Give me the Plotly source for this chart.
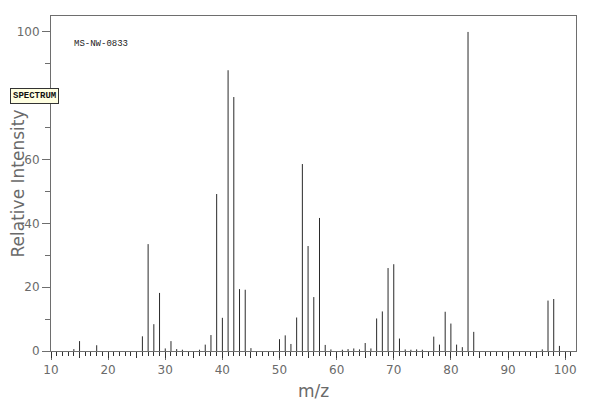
import plotly.graph_objects as go

# mass spectrum peaks (m/z, relative intensity)
mz = [14, 15, 18, 26, 27, 28, 29, 30, 31, 32, 33, 36, 37, 38, 39, 40, 41, 42, 43, 44,
      45, 50, 51, 52, 53, 54, 55, 56, 57, 58, 59, 61, 62, 63, 64, 65, 66, 67, 68, 69,
      70, 71, 72, 73, 74, 75, 77, 78, 79, 80, 81, 82, 83, 84, 96, 97, 98, 99]
intensity = [0.6, 3.1, 1.8, 4.6, 33.5, 8.4, 18.2, 0.8, 3.1, 0.6, 0.4, 0.4, 2.0, 5.0, 49.2, 10.4, 88.0, 79.6, 19.4, 19.2,
             0.9, 3.7, 4.9, 2.2, 10.5, 58.6, 32.9, 16.9, 41.7, 1.9, 0.5, 0.4, 0.6, 0.8, 0.5, 2.5, 0.8, 10.2, 12.4, 26.0,
             27.2, 3.9, 0.5, 0.4, 0.5, 0.4, 4.5, 2.0, 12.3, 8.6, 2.0, 1.2, 100.0, 6.0, 0.5, 15.8, 16.3, 1.6]

x_ticks = [10, 20, 30, 40, 50, 60, 70, 80, 90, 100]
y_ticks = [0, 20, 40, 60, 80, 100]

# stick lines: one segment per peak
xs, ys = [], []
for m, v in zip(mz, intensity):
    xs += [m, m, None]
    ys += [0, v, None]

fig = go.Figure()
fig.add_trace(go.Scatter(
    x=xs, y=ys, mode='lines',
    line=dict(color='#2a2a2a', width=1),
    hoverinfo='skip', showlegend=False
))
# invisible trace to carry the second x axis (5-unit ticks)
fig.add_trace(go.Scatter(x=[10], y=[0], xaxis='x2', mode='markers',
                         marker=dict(opacity=0), hoverinfo='skip', showlegend=False))

axis_grey = '#6e6e6e'
tick_font = dict(family='DejaVu Sans', size=12, color='#6a6a6a')
title_font = dict(family='DejaVu Sans', size=17, color='#6a6a6a')

# page body adds an 8px offset, so margins are set to land the frame where the reference has it
fig.update_layout(
    width=600, height=404,
    margin=dict(l=43, r=32, t=8, b=61),
    plot_bgcolor='white', paper_bgcolor='white',
    xaxis=dict(
        range=[10, 101.9], tickvals=x_ticks, ticks='outside', ticklen=8,
        tickcolor=axis_grey, tickwidth=1, automargin=False,
        minor=dict(dtick=1, tick0=10, ticks='outside', ticklen=4, tickcolor='#333'),
        showline=True, linecolor=axis_grey, linewidth=1, mirror=True,
        showgrid=False, zeroline=False, tickfont=tick_font,
        title=dict(text='m/z', font=title_font, standoff=8),
    ),
    xaxis2=dict(
        overlaying='x', side='bottom', range=[10, 101.9], dtick=5, tick0=10,
        ticks='outside', ticklen=6, tickcolor='#333', showticklabels=False,
        showgrid=False, zeroline=False, showline=False, automargin=False,
    ),
    yaxis=dict(
        range=[0, 105], tickvals=y_ticks, ticks='outside', ticklen=8,
        tickcolor=axis_grey, automargin=False,
        minor=dict(tickvals=[10, 30, 50, 70, 90], ticks='outside', ticklen=5, tickcolor=axis_grey),
        showline=True, linecolor=axis_grey, linewidth=1, mirror=True,
        showgrid=False, zeroline=False, tickfont=tick_font,
        title=dict(text='Relative Intensity', font=title_font, standoff=14),
    ),
    font=dict(family='DejaVu Sans'),
)

fig.add_annotation(
    text='MS-NW-0833', xref='paper', yref='paper', x=0.04, y=0.916,
    xanchor='left', yanchor='middle', showarrow=False,
    font=dict(family='Liberation Mono', size=9, color='#222')
)
fig.add_annotation(
    text='<b>SPECTRUM</b>', xref='paper', yref='paper', x=-0.078, y=0.761,
    xanchor='left', yanchor='middle', showarrow=False,
    font=dict(family='Liberation Mono', size=9, color='#111'),
    bgcolor='#ffffe1', bordercolor='#333', borderwidth=1, borderpad=2
)

fig.write_html("out.html")
